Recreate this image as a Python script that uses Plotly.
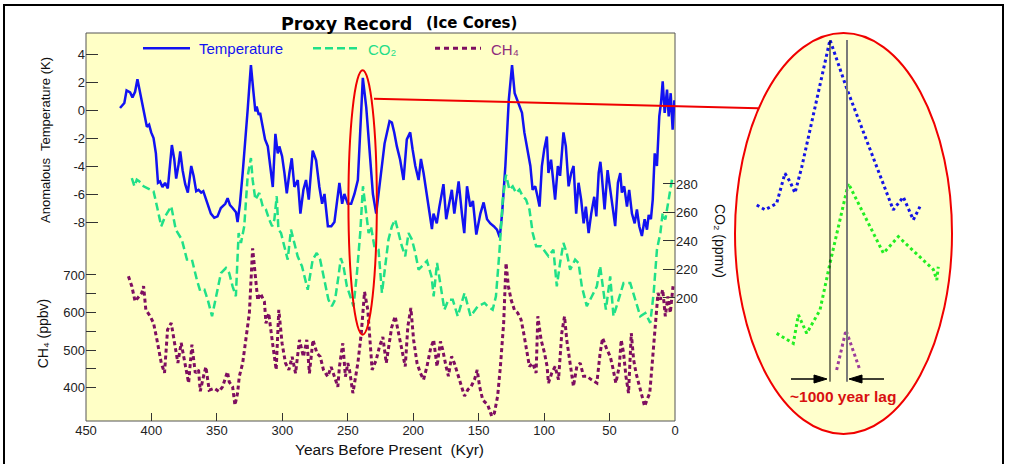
import plotly.graph_objects as go

W, H = 1009, 464

# ---------------- data ----------------
temp_kyr = [424, 420.7, 419, 416.3, 414.5, 412.5, 410.7, 408.7, 406, 403.5, 401.8, 400.2, 398.4, 396.6, 395,
            393.4, 391.6, 389.6, 387.5, 385.7, 384.4, 382.6, 381.1, 379.3, 378, 376.2, 374.2, 372.2, 369.6,
            367.8, 365.8, 364, 362, 360.4, 358.4, 354.6, 352, 349.5, 347, 343.6, 341.8, 340, 338, 335.4,
            334.2, 332.4, 330.3, 327.8, 326.5, 325.2, 324, 322.2, 320.6, 319.6, 318, 317, 315, 313.2, 311.1,
            309.4, 307.3, 305.3, 303.5, 302.3, 300.2, 298.4, 296.6, 294.6, 292.8, 290.8, 288.2, 286.2, 283.9,
            281.9, 279.8, 276.8, 274.2, 271.7, 269.6, 267.8, 265.2, 262.6, 260.2, 256.4, 254.3, 252.6, 250,
            247.4, 244.9, 242.3, 238.5, 235.9, 233.3, 230.8, 228.3, 225.8, 221.9, 218.1, 216.3, 214.5, 212.5,
            210, 207.4, 204.9, 202.3, 200.5, 198.4, 195.9, 194.1, 192.1, 190.3, 188.3, 185.7, 184.5, 182, 180,
            176.9, 174.8, 172.5, 170.5, 168.6, 165.3, 162.8, 161, 158.9, 156.4, 154.4, 151.8, 148.7, 146.2,
            143.6, 141.1, 138.5, 136, 133.9, 132.1, 129.6, 127, 124.5, 122.5, 120.7, 118.7, 116.9, 115.1,
            113.1, 110.5, 108.8, 106.8, 105, 103.5, 101.7, 99.9, 97.9, 96.7, 94.7, 92.9, 91.6, 89.5, 87.8,
            85.2, 83.4, 81.3, 79.3, 77.5, 75.5, 73.7, 71.7, 69.8, 68.1, 66, 64, 61.7, 60.1, 58.3, 57, 55.9,
            53.8, 51.5, 49.5, 47.7, 45.7, 43.6, 41.8, 40.6, 38.8, 36.7, 35, 32.9, 30.8, 29.1, 27.3, 25.3,
            23.2, 21.4, 20.1, 18.4, 17, 15.5, 13.8, 12, 10.7, 9.4, 7.9, 6.1, 4.8, 3.3, 1.8, 0.5]
temp_k = [0.14, 0.5, 1.4, 1.26, 0.9, 1.3, 2.2, 1.2, 0.0, -1.2, -1.05, -1.6, -2.0, -3.1, -5.2,
          -5.1, -5.5, -5.2, -5.6, -4.0, -2.5, -3.5, -4.9, -3.9, -2.95, -4.3, -5.3, -5.9, -4.0,
          -4.7, -5.8, -5.7, -5.9, -5.8, -6.4, -7.4, -7.7, -7.6, -7.0, -6.7, -6.3, -6.8, -7.0, -7.3,
          -8.0, -6.7, -4.5, -1.9, 0.0, 1.7, 3.2, 1.4, -0.1, 0.25, -0.35, -0.2, -1.2, -2.1, -2.6,
          -3.8, -5.5, -1.7, -3.1, -2.6, -3.3, -4.5, -5.95, -4.5, -3.45, -5.5, -5.0, -7.4, -5.7,
          -5.0, -6.4, -2.9, -3.6, -5.5, -6.7, -6.0, -8.3, -8.3, -8.0, -5.2, -6.7, -6.0, -6.7,
          -6.7, -6.0, -5.0, 2.3, 0.2, -2.9, -6.0, -7.4, -5.5, -2.4, -0.8, -0.9, -1.6, -2.6,
          -3.55, -5.0, -2.1, -1.6, -2.8, -4.0, -5.0, -3.5, -4.5, -5.7, -6.9, -8.5, -7.4, -8.1, -6.9,
          -5.3, -7.8, -6.6, -5.7, -7.4, -5.1, -7.4, -8.8, -5.45, -6.9, -6.5, -8.9, -7.4, -6.6,
          -7.8, -8.1, -8.3, -8.55, -9.1, -7.4, -4.0, 0.7, 3.2, 1.2, 0.75, 0.3, -0.2, -1.6,
          -2.6, -4.0, -5.7, -5.45, -6.2, -6.9, -4.0, -2.8, -1.9, -4.5, -3.55, -5.0, -6.4, -4.0, -4.7,
          -1.6, -2.6, -5.45, -4.5, -4.0, -7.4, -5.2, -6.4, -8.1, -6.9, -8.8, -7.4, -6.2, -7.6, -4.5, -3.7, -4.7,
          -7.1, -4.3, -5.9, -6.9, -8.3, -5.2, -4.5, -5.9, -5.45, -6.9, -5.7, -7.4, -8.1, -7.1, -8.3, -9.0,
          -7.8, -8.55, -7.5, -7.8, -6.4, -3.1, -4.0, -0.45, 0.5, 2.05, -0.2, 1.45, -0.45, 1.2, -1.4, 0.7]

co2_kyr = [415, 413, 411.2, 409.4, 406, 398.4, 395.8, 392.5, 389.5, 384.9, 381.4, 376.8, 372.9, 369.1,
           365.3, 362.8, 359.5, 357, 353.7, 350.7, 346.9, 343.1, 340.6, 338, 335.5, 333.4, 331.6, 329.1,
           326.5, 324, 322.7, 320.6, 317.6, 315, 312.5, 310, 307.8, 306.1, 304.3, 303, 301, 298.5, 295.9,
           293.4, 290.8, 288.3, 285, 282.4, 280.6, 276.8, 273.7, 271.1, 268.6, 264.8, 262.2, 259.7, 257.1,
           255.3, 253.3, 250.7, 248.1, 245.6, 243, 240.5, 238.4, 236.6, 234.1, 232.3, 229.7, 226.5, 223.9,
           221.4, 218.9, 216.3, 213.8, 211.2, 208.7, 206.1, 203.6, 201, 198.4, 195.9, 193.3, 189.5, 186,
           184.4, 181.8, 179.2, 176.2, 173.1, 169.8, 166, 160.8, 156.2, 150.7, 145.5, 143.1, 139.3, 136.8,
           134.2, 131.6, 129.1, 126.5, 124, 121.4, 118.9, 116.3, 113.8, 111.2, 108.7, 106.1, 102.3, 99,
           96.7, 92.9, 90.3, 87.8, 85.2, 82.7, 80.1, 76.3, 73.7, 71.2, 67.4, 63.5, 59.7, 57.2, 55.3, 52.8,
           49.5, 47, 43.1, 39.3, 34.2, 30.4, 26.5, 22.7, 18.9, 16.3, 13.8, 11.2, 9.4, 7.4, 4.8, 2.3]
co2_ppmv = [284.2, 278.4, 283, 281.9, 278.4, 274.9, 264.4, 250.3, 257.3, 264.4, 248, 241, 227, 227,
            212.8, 205, 205.8, 198.8, 187.2, 201.2, 217.5, 221, 217.5, 208.2, 201.2, 245.6, 238.6, 250.3,
            285.4, 298.2, 283, 269, 273.7, 264.4, 262, 255, 250.3, 255, 271.4, 248, 245.6, 236.3, 226.9,
            248, 238.6, 229.3, 222.3, 212.8, 205.8, 226.9, 231.6, 226.9, 215.2, 198.8, 194.2, 198.8, 215.2,
            228, 222.3, 208.2, 201.2, 194.2, 217.5, 245.6, 278.4, 264.4, 245.6, 250.3, 236.3, 233.9, 203.5,
            222.3, 241, 250.3, 255, 245.6, 236.3, 229.3, 245.6, 241, 231.6, 219.9, 222.3, 226, 215,
            201.2, 224.6, 208.2, 191.8, 198.8, 198.8, 187.2, 203.5, 187.2, 194.2, 196.5, 194.2, 191.8, 201.2,
            231.6, 269, 286.5, 276, 278.4, 273.7, 276, 271.4, 269, 262, 245.6, 236.3, 236.3, 231.6,
            229.3, 233.9, 208.2, 224.6, 238.6, 231.6, 219.9, 226.9, 224.6, 208.2, 194.2, 201.2, 208.2, 222.3, 208.2, 191.8,
            215.2, 187.2, 198.8, 210.5, 210.5, 198.8, 187.2, 189.5, 182.5, 203.5, 233.9, 245.6, 259.6, 255, 269, 283]

ch4_kyr = [417.6, 415, 412.5, 409.4, 407.4, 406, 404.3, 401, 398.4, 395.8, 392.5, 390, 387.7, 384.9, 382.4,
           379.8, 377.3, 374.7, 371.6, 369.1, 366.5, 364, 362.7, 359.7, 358.4, 355.9, 352.1, 348.3, 345.7,
           341.9, 340.6, 338, 336.2, 334.2, 332.9, 330.3, 327.8, 325.2, 322.7, 320.6, 318.8, 316.8, 313.7,
           312.5, 310.4, 307.8, 304.7, 302.7, 300.2, 297.6, 295, 292.5, 289.9, 286.9, 283.9, 281.3, 279.3,
           276.6, 273.5, 271, 268.6, 265.3, 262.7, 260.2, 257.6, 256.4, 253.8, 251.8, 250, 248.7, 246.1,
           242.3, 239.7, 237.2, 234.7, 231.4, 228.3, 225.8, 223.2, 220.6, 216.5, 213.8, 211.2, 208.7, 206.1,
           204.1, 201.8, 199.7, 197.1, 194.6, 192.1, 189.5, 186.9, 184.4, 181.8, 179.2, 177.5, 174.9, 173.1,
           170.7, 168.6, 165.5, 160.8, 158.3, 155.7, 153.2, 151.1, 149.3, 146.9, 143.1, 140, 138, 135.5,
           133.4, 130.9, 129.1, 127.3, 125.2, 122.7, 120.2, 117.6, 115.6, 113.8, 111.2, 108.7, 106.1, 104.8,
           102.3, 99.7, 97.7, 96.7, 94.1, 91.6, 89, 86.5, 84.4, 82.7, 80.1, 77.6, 75, 72.4, 69.9, 67.3, 64,
           59.7, 57.2, 55.3, 52, 49.5, 47.7, 45.2, 42.6, 41.1, 39.3, 37.5, 35.5, 33.4, 31.6, 29.8, 27.8,
           25.3, 23.2, 21.4, 19.3, 17.6, 15.1, 13, 11.2, 9.4, 7.4, 5.4, 3.6, 1.5]
ch4_ppbv = [696.5, 670, 630, 643, 652, 670, 607.5, 590, 572, 527.5, 465.5, 439, 554, 572, 519,
            465.5, 519, 465.5, 412, 514, 439, 447, 390, 438, 455, 393, 398, 389, 402,
            442, 415, 402, 353, 385, 429, 465, 535, 598, 771, 696, 633, 651, 629,
            571, 598, 527, 447, 607, 518, 465, 447, 482, 438, 527, 482, 527, 438,
            527, 491, 482, 447, 429, 455, 429, 402, 455, 518, 429, 465, 447, 385,
            465, 544, 655, 607, 447, 473, 509, 535, 465, 560, 590, 545, 492, 456,
            563, 612, 527, 465, 439, 421, 456, 501, 527, 456, 523, 501, 456, 430,
            483, 465, 430, 377, 394, 403, 421, 447, 403, 367, 354, 323, 332, 377,
            456, 572, 732, 670, 634, 607, 599, 581, 545, 510, 456, 465, 439, 590,
            527, 492, 456, 412, 439, 456, 421, 545, 590, 527, 465, 403, 456, 465, 430, 430, 421,
            412, 492, 532, 501, 483, 456, 412, 456, 527, 492, 430, 385, 545, 474, 439, 412,
            377, 350, 367, 385, 456, 563, 652, 634, 661, 590, 643, 599, 670]

# inset (zoom of the ~240 kyr termination), time in kyr after the temperature peak, relative units
inset_t_temp = [-4.31, -3.82, -3.14, -2.65, -2.35, -2.06, -1.66, 0.0, 0.98, 3.72, 4.31, 4.90, 5.29]
inset_v_temp = [57.1, 55.9, 57.5, 65.0, 62.9, 60.1, 66.6, 98.3, 86.2, 55.9, 59.1, 53.4, 56.7]
inset_t_co2 = [-3.14, -2.16, -1.86, -1.37, -0.59, 0.0, 1.08, 3.14, 4.02, 6.08, 6.28, 6.37]
inset_v_co2 = [25.1, 22.6, 29.7, 25.1, 30.9, 42.6, 62.5, 45.1, 49.2, 41.0, 38.4, 41.7]
inset_t_ch4 = [0.39, 0.94, 1.76]
inset_v_ch4 = [15.96, 25.9, 15.96]

x_ticks = [450, 400, 350, 300, 250, 200, 150, 100, 50, 0]
temp_ticks = [-8, -6, -4, -2, 0, 2, 4]
co2_ticks = [200, 220, 240, 260, 280]
ch4_ticks = [400, 500, 600, 700]
ch4_minor = [450, 550, 650]

# ---------------- styling ----------------
BLUE = "#1212F2"
GREEN = "#20E088"
PURPLE = "#7E0E60"
RED = "#F00000"
YELLOW = "#FFFFC6"
FONT = "Liberation Sans, Arial, DejaVu Sans, sans-serif"


def px(x):
    return x / W


def py(y):
    return 1 - y / H


fig = go.Figure()

fig.add_trace(go.Scatter(x=ch4_kyr, y=ch4_ppbv, xaxis="x", yaxis="y3", mode="lines", name="CH₄",
                         line=dict(color=PURPLE, width=3, dash="4px,3px")))
fig.add_trace(go.Scatter(x=co2_kyr, y=co2_ppmv, xaxis="x", yaxis="y2", mode="lines", name="CO₂",
                         line=dict(color=GREEN, width=2.5, dash="8px,4px")))
fig.add_trace(go.Scatter(x=temp_kyr, y=temp_k, xaxis="x", yaxis="y", mode="lines", name="Temperature",
                         line=dict(color=BLUE, width=2.5)))

# inset traces
fig.add_trace(go.Scatter(x=inset_t_temp, y=inset_v_temp, xaxis="x2", yaxis="y4", mode="lines",
                         line=dict(color="#1414E6", width=3, dash="3px,3px")))
fig.add_trace(go.Scatter(x=inset_t_co2, y=inset_v_co2, xaxis="x2", yaxis="y4", mode="lines",
                         line=dict(color="#22EE22", width=3, dash="3px,3px")))
fig.add_trace(go.Scatter(x=inset_t_ch4, y=inset_v_ch4, xaxis="x2", yaxis="y4", mode="lines",
                         line=dict(color="#9B3C9B", width=3, dash="3px,3px")))

tickfont = dict(family=FONT, size=13, color="#222")
titlefont13 = dict(family=FONT, size=13, color="#111")
titlefont14 = dict(family=FONT, size=14, color="#111")

fig.update_layout(
    template="none",
    width=W, height=H, autosize=False,
    margin=dict(l=0, r=0, t=0, b=0, pad=0),
    paper_bgcolor="white", plot_bgcolor="rgba(0,0,0,0)",
    showlegend=False, hovermode=False,
    title=dict(text="<b>Proxy Record</b>", x=px(281), xanchor="left", xref="paper",
               y=py(23.5), yanchor="middle", yref="container",
               font=dict(family="DejaVu Sans", size=17.5, color="black")),
    xaxis=dict(domain=[px(86), px(675)], range=[450, 0], tickvals=x_ticks, ticks="inside",
               ticklen=8, tickcolor="#333", showgrid=False, zeroline=False, showline=False,
               tickfont=tickfont, anchor="y3", automargin=False),
    # temperature: upper part of the panel
    yaxis=dict(domain=[py(247), py(33)], range=[-9.786, 5.5], tickvals=temp_ticks,
               ticktext=[str(v) for v in temp_ticks], ticks="inside", ticklen=12, tickcolor="#333",
               showgrid=False, zeroline=False, showline=False, tickfont=tickfont, anchor="x",
               automargin=False, title=dict(text="Anomalous  Temperature (K)", font=titlefont13)),
    # CO2: full panel height, right side
    yaxis2=dict(domain=[py(421), py(33)], side="right", range=[113.68, 385.96], tickvals=co2_ticks,
                ticks="inside", ticklen=12, tickcolor="#333", showgrid=False, zeroline=False,
                showline=False, tickfont=tickfont, anchor="x", automargin=False),
    # CH4: lower part of the panel
    yaxis3=dict(domain=[py(421), py(246)], side="left", range=[310.7, 777.3], tickvals=ch4_ticks,
                ticks="inside", ticklen=10, tickcolor="#333", showgrid=False, zeroline=False,
                showline=False, tickfont=tickfont, anchor="x", automargin=False,
                title=dict(text="CH₄ (ppbv)", font=titlefont14),
                minor=dict(tickvals=ch4_minor, ticks="inside", ticklen=10, tickcolor="#333",
                           showgrid=False)),
    xaxis2=dict(domain=[px(735), px(952)], range=[-5.588, 7.176], visible=False, anchor="y4",
                automargin=False),
    yaxis4=dict(domain=[py(434), py(33)], range=[0, 100], visible=False, anchor="x2",
                automargin=False),
)

shapes = []
# outer frame
shapes.append(dict(type="rect", xref="paper", yref="paper", x0=px(4), x1=px(1003), y0=-0.05, y1=py(5),
                   line=dict(color="black", width=2), fillcolor="rgba(0,0,0,0)", layer="below"))
# main plot background / frame
shapes.append(dict(type="rect", xref="paper", yref="paper", x0=px(86), x1=px(675), y0=py(421), y1=py(33),
                   line=dict(color="#555", width=1), fillcolor=YELLOW, layer="below"))
# big inset ellipse
shapes.append(dict(type="circle", xref="paper", yref="paper", x0=px(735), x1=px(952), y0=py(434), y1=py(33),
                   line=dict(color=RED, width=2), fillcolor="#FFFFCC", layer="below"))
# small ellipse around the ~240 kyr peak (placed on the full-height CO2 axis)
shapes.append(dict(type="circle", xref="x", yref="y2", x0=249.5, x1=227.8, y0=174.25, y1=359.8,
                   line=dict(color=RED, width=2), layer="above"))
# connecting line
shapes.append(dict(type="line", xref="paper", yref="paper", x0=px(374), y0=py(98.7), x1=px(758), y1=py(108.3),
                   line=dict(color=RED, width=2), layer="above"))
# inset vertical marker lines
shapes.append(dict(type="line", xref="x2", yref="paper", x0=0, x1=0, y0=py(381.7), y1=py(40),
                   line=dict(color="black", width=1)))
shapes.append(dict(type="line", xref="x2", yref="paper", x0=1, x1=1, y0=py(381.7), y1=py(40),
                   line=dict(color="#7a7a7a", width=2)))
# lag arrows (shafts + heads)
ay = py(379)
shapes.append(dict(type="line", xref="paper", yref="paper", x0=px(791), x1=px(818), y0=ay, y1=ay,
                   line=dict(color="black", width=1.5)))
shapes.append(dict(type="path", xref="paper", yref="paper",
                   path=f"M {px(827)} {ay} L {px(814)} {py(375)} L {px(814)} {py(383)} Z",
                   fillcolor="black", line=dict(color="black", width=1)))
shapes.append(dict(type="line", xref="paper", yref="paper", x0=px(884), x1=px(858), y0=ay, y1=ay,
                   line=dict(color="black", width=1.5)))
shapes.append(dict(type="path", xref="paper", yref="paper",
                   path=f"M {px(849)} {ay} L {px(862)} {py(375)} L {px(862)} {py(383)} Z",
                   fillcolor="black", line=dict(color="black", width=1)))
# legend samples
shapes.append(dict(type="line", xref="paper", yref="paper", x0=px(143), x1=px(190), y0=py(48.3), y1=py(48.3),
                   line=dict(color=BLUE, width=2.5)))
shapes.append(dict(type="line", xref="paper", yref="paper", x0=px(313), x1=px(359), y0=py(48.3), y1=py(48.3),
                   line=dict(color=GREEN, width=2.5, dash="8px,4px")))
shapes.append(dict(type="line", xref="paper", yref="paper", x0=px(435), x1=px(481), y0=py(48.3), y1=py(48.3),
                   line=dict(color=PURPLE, width=3, dash="5px,4px")))
fig.update_layout(shapes=shapes)

ann = []
ann.append(dict(text="<b>(Ice Cores)</b>", x=px(424), y=py(22.5), xanchor="left", yanchor="middle",
                font=dict(family="DejaVu Sans", size=15, color="black")))
ann.append(dict(text="Temperature", x=px(197), y=py(48.5), xanchor="left", yanchor="middle",
                font=dict(family=FONT, size=15, color=BLUE)))
ann.append(dict(text="CO₂", x=px(366), y=py(49), xanchor="left", yanchor="middle",
                font=dict(family=FONT, size=15, color="#22DD88")))
ann.append(dict(text="CH₄", x=px(489), y=py(49), xanchor="left", yanchor="middle",
                font=dict(family=FONT, size=15, color="#8E2C7C")))
ann.append(dict(text="CO₂ (ppmv)", x=px(720), y=py(241), textangle=90,
                xanchor="center", yanchor="middle", font=titlefont14))
ann.append(dict(text="Years Before Present  (Kyr)", x=px(389.5), y=py(449), xanchor="center",
                yanchor="middle", font=dict(family=FONT, size=15.5, color="#111")))
ann.append(dict(text="<b>~1000 year lag</b>", x=px(842.5), y=py(396.5), xanchor="center",
                yanchor="middle", font=dict(family=FONT, size=15.5, color="#D81010")))
for a in ann:
    a.setdefault("xref", "paper")
    a.setdefault("yref", "paper")
    a.setdefault("showarrow", False)
fig.update_layout(annotations=ann)

fig.write_html("out.html", config={"displayModeBar": False},
               post_script="document.body.style.margin='0';document.body.style.overflow='hidden';")
